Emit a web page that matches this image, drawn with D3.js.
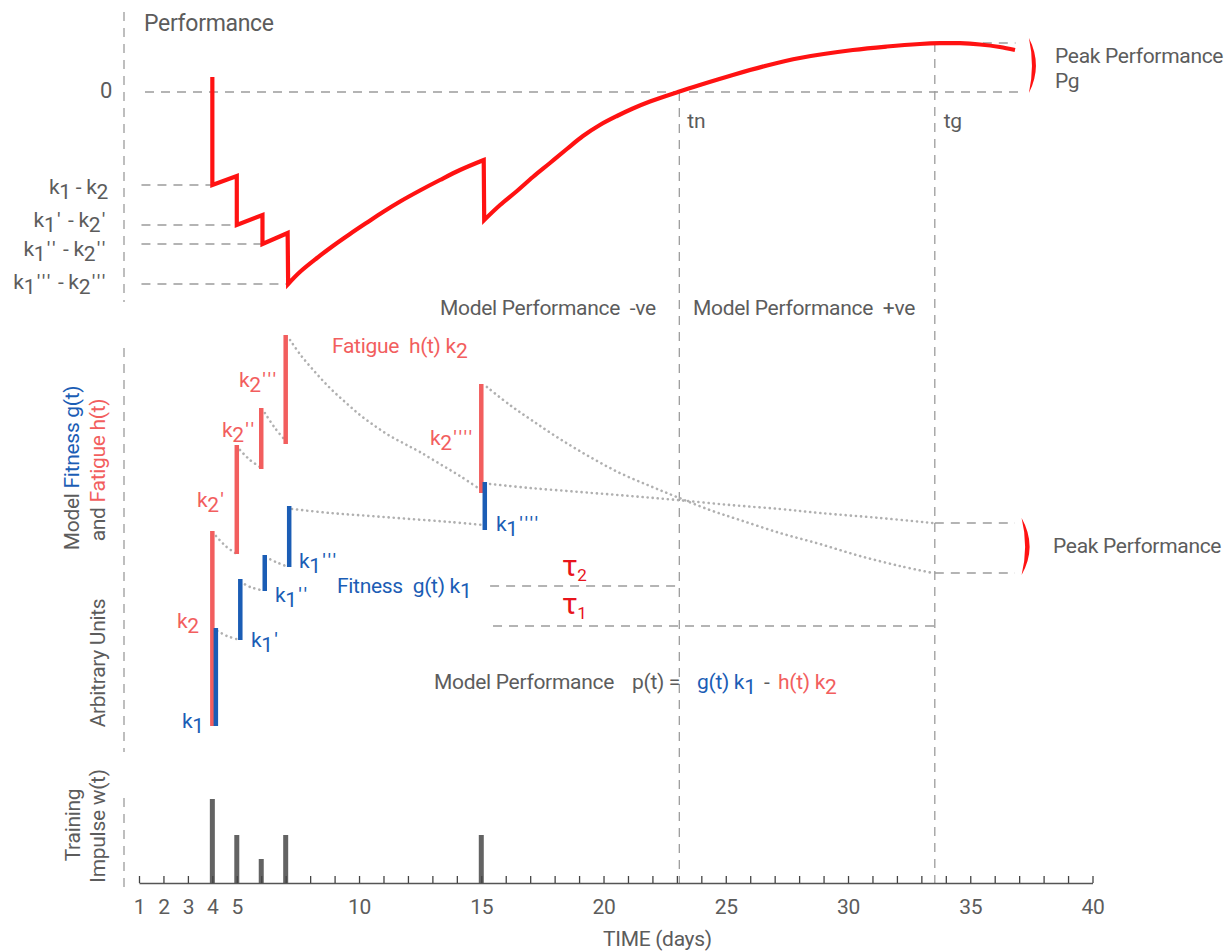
<!DOCTYPE html>
<html><head><meta charset="utf-8">
<script src="https://cdn.jsdelivr.net/npm/d3@7"></script>
<style>
html,body{margin:0;padding:0;background:#fff;}
svg text{font-family:Roboto,"Open Sans",sans-serif;font-size:21px;letter-spacing:-0.3px;white-space:pre;}
</style></head><body><svg id="c" width="1228" height="951"></svg>
<script>
// ---------------- DATA ----------------
const days = d3.range(1, 41);
const dayLabels = [1, 2, 3, 4, 5, 10, 15, 20, 25, 30, 35, 40];
const trainingDays = [4, 5, 6, 7, 15];
const trainingImpulse = [3.5, 2, 1, 2, 2];

// performance (top panel)
const perfLevels = [-9.3, -13.3, -15.2, -19.2];
const perfLevelEnds = [4, 5, 6.05, 7.1];
const perfLevelLabels = ["k{1} - k{2}", "k{1}' - k{2}'", "k{1}'' - k{2}''", "k{1}''' - k{2}'''"];
const perfLabelBaselines = [194, 227, 256, 289];
const perfStart = [[4, 1.5], [4, -9.3], [5, -8.4], [5, -13.3], [6.05, -12.3], [6.05, -15.2], [7.08, -14.1], [7.1, -19.2]];
const perfRecovery1 = [[7.1, -19.2], [7.58, -18.0], [8.28, -16.6], [8.93, -15.4], [9.63, -14.2], [10.33, -13.05], [10.98, -12.0], [11.68, -10.95], [12.49, -9.85], [13.31, -8.8], [14.13, -7.8], [15.1, -6.8]];
const perfDrop = [[15.1, -6.8], [15.12, -12.8]];
const perfRecovery2 = [[15.12, -12.8], [15.77, -11.3], [16.46, -9.9], [17.11, -8.5], [17.81, -7.1], [18.5, -5.7], [19.16, -4.4], [19.85, -3.3], [20.55, -2.4], [21.2, -1.65], [21.9, -0.95], [23.04, 0], [23.94, 0.7], [25.29, 1.7], [26.69, 2.65], [28.03, 3.4], [30.2, 4.2], [31.59, 4.55], [32.94, 4.8], [33.76, 4.88], [34.58, 4.88], [35.4, 4.75], [36.21, 4.5], [36.83, 4.2]];
const tn = 23.1, tg = 33.55;
const peakPerf = 4.9;

// fitness / fatigue (middle panel)
const fatigueFrom = [0, 17.2, 25.7, 28.2, 23.3];
const fatigueTo = [19.5, 28.1, 31.8, 39.1, 34.2];
const fatigueLabels = ["k{2}", "k{2}'", "k{2}''", "k{2}'''", "k{2}''''"];
const fitnessFrom = [0, 8.6, 13.5, 15.9, 19.6];
const fitnessTo = [9.8, 14.7, 17.1, 22.0, 24.4];
const fitnessLabels = ["k{1}", "k{1}'", "k{1}''", "k{1}'''", "k{1}''''"];
const fatigueDecays = [
  [[4.15, 19.0], [4.54, 18.0], [4.93, 17.3]],
  [[5.13, 27.6], [5.54, 26.6], [5.95, 25.9]],
  [[6.15, 31.3], [6.56, 29.8], [6.97, 28.6]],
  [[7.18, 38.6], [7.58, 37.2], [8.2, 35.4], [8.81, 33.8], [9.43, 32.4], [10.04, 31.1], [10.65, 30.0], [11.27, 29.0], [11.88, 28.2], [12.49, 27.4], [13.31, 26.2], [14.13, 25.0], [14.99, 23.6]],
  [[15.23, 33.9], [16.17, 32.1], [17.11, 30.5], [18.22, 28.7], [19.45, 26.9], [20.67, 25.3], [21.9, 24.0], [23.0, 22.9], [24.35, 21.6], [25.58, 20.6], [27.22, 19.3], [28.85, 18.2], [30.49, 17.0], [32.12, 16.0], [33.47, 15.3]]
];
const fitnessDecays = [
  [[4.2, 9.5], [4.6, 9.0], [4.98, 8.7]],
  [[5.15, 14.4], [5.55, 13.9], [5.98, 13.6]],
  [[6.18, 16.9], [6.6, 16.4], [7.0, 16.0]],
  [[7.26, 21.7], [8.81, 21.3], [10.45, 21.0], [12.08, 20.7], [13.72, 20.4], [15.07, 20.1]],
  [[15.36, 24.2], [16.99, 23.8], [19.04, 23.4], [21.08, 23.0], [23.0, 22.6], [25.17, 22.1], [27.22, 21.7], [28.85, 21.3], [31.31, 20.8], [33.47, 20.3]]
];
const tau2Level = 14.0, tau1Level = 10.0;
const peakFitness = 20.3, peakFatigue = 15.3;

// ---------------- SCALES ----------------
const C = { gray: "#5c5c5c", red: "#ff1212", salmon: "#f25e5e", blue: "#1b5db5", dash: "#9c9c9c", dot: "#b0b0b0", bar: "#636363" };
const svg = d3.select("#c");
const x = d3.scaleLinear().domain([1, 40]).range([139, 1092.5]);
const yP = d3.scaleLinear().domain([0, -20]).range([92, 292]);
const yM = d3.scaleLinear().domain([0, 40]).range([726, 326]);
const yW = d3.scaleLinear().domain([0, 3.5]).range([883, 799]);
const axisX = x(1) - 15;

function rich(sel, str, color, dy) {
  dy = dy || 5;
  const parts = str.split(/(\{[^}]*\}|'+)/).filter(s => s.length);
  let lowered = false;
  parts.forEach(p => {
    if (p[0] === "{") {
      sel.append("tspan").attr("dy", lowered ? 0 : dy).attr("fill", color).text(p.slice(1, -1));
      lowered = true;
    } else {
      const ts = sel.append("tspan").attr("dy", lowered ? -dy : 0).attr("fill", color).text(p);
      if (p[0] === "'") ts.attr("dx", 1.5).style("letter-spacing", "2.5px");
      lowered = false;
    }
  });
  return sel;
}
function txt(xp, yp, str, color, anchor) {
  const t = svg.append("text").attr("x", xp).attr("y", yp).attr("text-anchor", anchor || "start");
  return rich(t, str, color || C.gray);
}
function dashH(yv, x0, x1) {
  svg.append("line").attr("x1", x0).attr("x2", x1).attr("y1", yv).attr("y2", yv)
    .attr("stroke", C.dash).attr("stroke-width", 1.3).attr("stroke-dasharray", "9,7");
}
function dashV(xv, y0, y1) {
  svg.append("line").attr("x1", xv).attr("x2", xv).attr("y1", y0).attr("y2", y1)
    .attr("stroke", C.dash).attr("stroke-width", 1.3).attr("stroke-dasharray", "9,7");
}

// ---------------- LEFT DASHED AXES ----------------
dashV(axisX, yP(8), yP(-21));
dashV(axisX, yM(37.8), yM(-2.6));
dashV(axisX, yW(3.54), yW(-0.2));

// ---------------- TOP PANEL ----------------
txt(144, 31, "Performance").style("font-size", "23px");
txt(112, 98, "0", C.gray, "end").style("font-size", "22px");
dashH(yP(0), 145, x(37.15));
dashH(yP(peakPerf), x(tg), x(36.85));
perfLevels.forEach((v, i) => {
  dashH(yP(v), x(1.1), x(perfLevelEnds[i]));
  txt(108, perfLabelBaselines[i], perfLevelLabels[i], C.gray, "end");
});
dashV(x(tn), yP(0), yW(0));
dashV(x(tg), yP(peakPerf), yW(0));
txt(x(tn) + 8, 128, "tn");
txt(x(tg) + 9, 128, "tg");

const lin = d3.line().x(d => x(d[0])).y(d => yP(d[1]));
const crv = d3.line().x(d => x(d[0])).y(d => yP(d[1])).curve(d3.curveCatmullRom.alpha(0.5));
const perfPath = lin(perfStart) + crv(perfRecovery1).replace(/^M/, "L") + lin(perfDrop).replace(/^M/, "L") + crv(perfRecovery2).replace(/^M/, "L");
svg.append("path").attr("d", perfPath).attr("fill", "none").attr("stroke", C.red)
  .attr("stroke-width", 4.2).attr("stroke-linejoin", "miter").attr("stroke-miterlimit", 10);

function bracket(xc, y0, y1, bulge, thick) {
  const m = (y0 + y1) / 2;
  return `M${xc},${y0} Q${xc + 2 * bulge},${m} ${xc},${y1} Q${xc + 2 * (bulge - thick)},${m} ${xc},${y0} Z`;
}
svg.append("path").attr("d", bracket(x(37.4), yP(5.4), yP(-0.1), 7, 4)).attr("fill", C.red);
txt(1055, 63, "Peak Performance");
txt(1055, 88, "Pg");

txt(440, 315, "Model Performance  -ve");
txt(693, 315, "Model Performance  +ve");

// ---------------- MIDDLE PANEL ----------------
const dotLine = d3.line().x(d => x(d[0])).y(d => yM(d[1])).curve(d3.curveCatmullRom.alpha(0.5));
fatigueDecays.concat(fitnessDecays).forEach(arr => {
  svg.append("path").attr("d", dotLine(arr)).attr("fill", "none").attr("stroke", C.dot)
    .attr("stroke-width", 2.6).attr("stroke-dasharray", "0.1,5").attr("stroke-linecap", "round");
});
trainingDays.forEach((d, i) => {
  svg.append("line").attr("x1", x(d)).attr("x2", x(d)).attr("y1", yM(fatigueFrom[i])).attr("y2", yM(fatigueTo[i]))
    .attr("stroke", C.salmon).attr("stroke-width", 4.5);
});
trainingDays.forEach((d, i) => {
  svg.append("line").attr("x1", x(d) + 3.5).attr("x2", x(d) + 3.5).attr("y1", yM(fitnessFrom[i])).attr("y2", yM(fitnessTo[i]))
    .attr("stroke", C.blue).attr("stroke-width", 4.5);
});
const fatLabelPos = [[177, 628], [197, 507], [222, 437], [239, 387], [430, 445]];
const fitLabelPos = [[182, 728], [251, 647], [275, 602], [299, 568], [496, 531]];
fatigueLabels.forEach((l, i) => txt(fatLabelPos[i][0], fatLabelPos[i][1], l, C.salmon));
fitnessLabels.forEach((l, i) => txt(fitLabelPos[i][0], fitLabelPos[i][1], l, C.blue));
txt(332, 353, "Fatigue  h(t) k{2}", C.salmon);
txt(337, 593, "Fitness  g(t) k{1}", C.blue);

dashH(yM(tau2Level), x(15.36), x(tn));
dashH(yM(tau1Level), x(15.48), x(tg));
const tau = (yb, sub) => {
  const t = svg.append("text").attr("x", 562).attr("y", yb).attr("fill", "#e8141c").style("font-size", "30px");
  t.append("tspan").text("τ");
  t.append("tspan").attr("dy", 5).style("font-size", "17px").text(sub);
};
tau(576, "2");
tau(614, "1");

dashH(yM(peakFitness), x(tg), x(36.83));
dashH(yM(peakFatigue), x(tg), x(36.83));
svg.append("path").attr("d", bracket(x(37.1), yM(20.8), yM(15.1), 8, 4.5)).attr("fill", C.red);
txt(1053, 553, "Peak Performance");

txt(434, 689, "Model Performance");
txt(632, 689, "p(t) =");
txt(697, 689, "g(t) k{1}", C.blue);
txt(764, 689, "-");
txt(778, 689, "h(t) k{2}", C.salmon);

// rotated labels
function rot(xp, yp, pieces) {
  const t = svg.append("text").attr("transform", `translate(${xp},${yp}) rotate(-90)`).attr("text-anchor", "middle");
  pieces.forEach(p => t.append("tspan").attr("fill", p[1]).text(p[0]));
}
rot(79, 468, [["Model ", C.gray], ["Fitness g(t)", C.blue]]);
rot(105, 470, [["and ", C.gray], ["Fatigue h(t)", C.salmon]]);
rot(105, 663, [["Arbitrary Units", C.gray]]);
rot(80, 825, [["Training", C.gray]]);
rot(105, 826, [["Impulse w(t)", C.gray]]);

// ---------------- BOTTOM PANEL ----------------
trainingDays.forEach((d, i) => {
  svg.append("rect").attr("x", x(d) - 2.5).attr("width", 5).attr("y", yW(trainingImpulse[i]))
    .attr("height", yW(0) - yW(trainingImpulse[i])).attr("fill", C.bar);
});
const axis = d3.axisBottom(x).tickValues(days).tickSizeInner(-7).tickSizeOuter(0).tickPadding(16)
  .tickFormat(d => dayLabels.includes(d) ? d : "");
const ag = svg.append("g").attr("transform", `translate(0,${yW(0)})`).call(axis);
ag.select(".domain").attr("stroke", "#555").attr("stroke-width", 1.6);
ag.selectAll(".tick line").attr("stroke", "#444").attr("stroke-width", 1.3);
ag.selectAll(".tick text").attr("fill", C.gray).style("font-size", "21px").attr("font-family", null);
txt(603, 946, "TIME (days)");
</script></body></html>
